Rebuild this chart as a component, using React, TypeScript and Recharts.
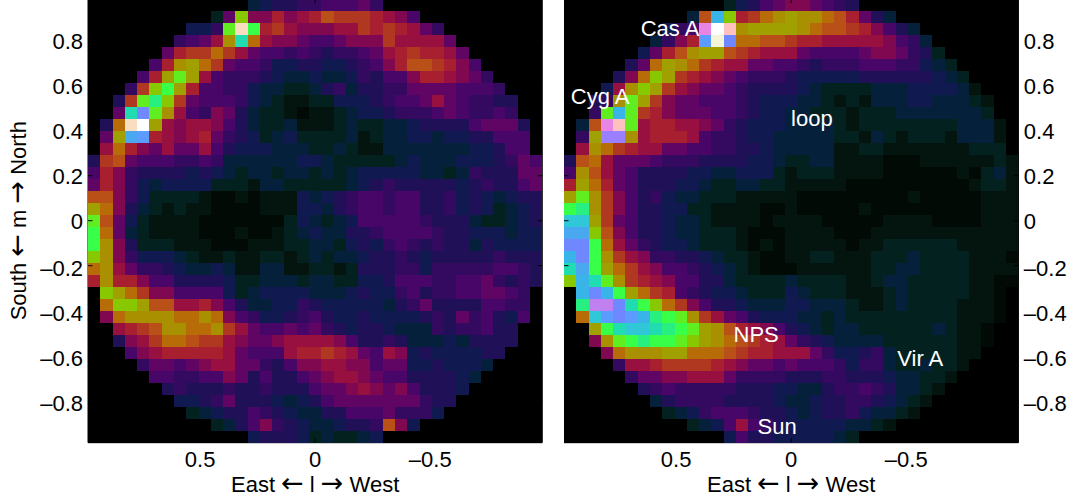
import { ScatterChart, Scatter, XAxis, YAxis, ReferenceDot, ReferenceLine } from "recharts"

// one character per sky cell, "." is outside the visible circle
const LEVEL_CODES = "0123456789abcdefghijklmnopqrstuvwx"
const LEVEL_COLORS = [
  "#010a04", "#03150e", "#03221f", "#04203a", "#101a50", "#201058", "#330a60", "#480668", "#600564",
  "#800850", "#981040", "#a82030", "#b03820", "#b85018", "#b86c08", "#a89000", "#a0a000", "#88c800",
  "#60ee20", "#38ff48", "#28f080", "#20dcb0", "#30c8d8", "#38b4e8", "#4aa8f0", "#5c9cff", "#7088ff",
  "#9a80ff", "#c080f0", "#e884e4", "#ffc0c0", "#fadcc0", "#f4f4d8", "#ffffff",
]
const OUTSIDE_COLOR = "#000000"

const LEFT_ROWS = [
  ".............34556677786.............",
  "..........28h99b9abdcccba97..........",
  "........446ivjbca999aacbcba86........",
  ".......678aflea998778999caaaa8.......",
  "......8bcceca87767656678abcbba8......",
  ".....7bfgec87764455445679bddcb97.....",
  "....7bgiga76665433433465779bba986....",
  "...6chjgb7766433223563556688887776...",
  "..5cikhc87776432112244456778a876655..",
  "..8lqifa769853221011234456667876676..",
  ".5evxga9aa97532231112322334555578885.",
  ".8gopba9ab86542342222312334434455777.",
  ".aeb98a88a75444333223211333333344577.",
  "5cd8777667633333344322222343334445687",
  "7b96555545432332332323444443323655588",
  "8b96434444222133222223456555554565578",
  "dd96422221001011143456776775564543455",
  "ge95321211000011144356776775564542345",
  "id84211110000000243234777776555322345",
  "je83211110001001234335567777655444344",
  "jf95222111000111223324546765655354444",
  "hf96444321121122123233455654555556555",
  "efa8665433431133112212555664666667765",
  "bfbb977555542233323322445777667786565",
  ".hgec9977774234444333454467566778876.",
  ".ehhgddaab97533446544444356855557766.",
  ".9effffeefe9764456754454444565867547.",
  "..abcdffeefca8778786545543336566755..",
  "..59aceedcca9889aaaa975565333435555..",
  "...79abbbbba8777abbcba87a945444455...",
  "....688789aa8865799aa997884454443....",
  ".....776677985755789aa9877555543.....",
  "......5655565565557889a98975554......",
  ".......44568555434578888888655.......",
  "........234557654335577786664........",
  "..........23579654334556d94..........",
  ".............45554232234.............",
]

const RIGHT_ROWS = [
  ".............24578998765.............",
  "..........3dnhbcefgffedb853..........",
  "........467txufggggfeddcb9753........",
  ".......369bpwqeeddcbbaaaaa9763.......",
  "......48bdfggdcbaaa877778998652......",
  ".....58egfecbaa88776566677766432.....",
  "....59ehgcba987666544444555555432....",
  "...4afhgca988765555432222333444431...",
  "..56figc988777654443321213334433321..",
  "..6inicb988877654433222122233333332..",
  ".3dtuiabbaa9865444333321222222223331.",
  ".6grrfabbba7665443333322132122213331.",
  ".afecbaa8877665543333311221111111222.",
  "5dea888766655554432233111100011111121",
  "7fda875555443344421222111100000010231",
  "bgeb875554432233221111100000000001221",
  "gifc975643322211111000000000100000111",
  "jkfc975544221111001000001000000000111",
  "mmgc875543321111011110000011110000111",
  "oohd975543322210001111000111111111111",
  "qqjea86544322210101111101122222211111",
  "nqjfca9665543221001122111222322221110",
  "lojgeca977654321000111111223322221111",
  "hnlifcba97755322223222211233222221100",
  ".nqnjgecb765443222432221112322222110.",
  ".kssqljhec97554333443332112322221110.",
  ".empqpnkjifca87544433232222222221110.",
  "..gjlmmlkjigfdba9754323322222232110..",
  "..9fijkjjihgfedcba86543333222222110..",
  "...9efffggeeedcbbaaa86445632222211...",
  "....6aabccccba9887877764663223221....",
  ".....68899aaa8666655566555433221.....",
  "......5676666655544335667653321......",
  ".......35666655554334556654321.......",
  "........234677765543455643321........",
  "..........2347a765444443321..........",
  ".............47554444432.............",
]

const GRID_SIZE = 37
const HALF_RANGE = 0.987
const X_TICKS = [0.5, 0, -0.5]
const Y_TICKS = [0.8, 0.6, 0.4, 0.2, 0, -0.2, -0.4, -0.6, -0.8]
const X_TITLE = ["East ", " l ", " West"]
const Y_TITLE = ["South ", " m ", " North"]

const RIGHT_NOTES = [
  { name: "Cas A", l: 0.526, m: 0.856 },
  { name: "Cyg A", l: 0.83, m: 0.554 },
  { name: "loop", l: -0.09, m: 0.456 },
  { name: "NPS", l: 0.152, m: -0.503 },
  { name: "Vir A", l: -0.561, m: -0.61 },
  { name: "Sun", l: 0.061, m: -0.912 },
]

const FONT = "'Liberation Sans', Arial, sans-serif"
const FONT_SIZE = 22
const PLOT_W = 454.3
const PLOT_H = 444
const PLOT_TOP = 0.7
const CHART_H = 502
const TICK_LEN = 4.5

function toCells(rows: string[]) {
  const step = (2 * HALF_RANGE) / GRID_SIZE
  const cells: { l: number; m: number; color: string }[] = []
  rows.forEach((row, r) => {
    row.split("").forEach((code, c) => {
      cells.push({
        l: HALF_RANGE - (c + 0.5) * step,
        m: HALF_RANGE - (r + 0.5) * step,
        color: code === "." ? OUTSIDE_COLOR : LEVEL_COLORS[LEVEL_CODES.indexOf(code)],
      })
    })
  })
  return cells
}

function fmt(v: number) {
  return v < 0 ? `\u2013${Math.abs(v)}` : String(v)
}

function SkyCell(props: any) {
  const { cx, cy, payload } = props
  const w = PLOT_W / GRID_SIZE
  const h = PLOT_H / GRID_SIZE
  return <rect x={cx - w / 2} y={cy - h / 2} width={w} height={h} fill={payload.color} shapeRendering="crispEdges" />
}

// the arrows come from DejaVu, the text font has very short ones
function AxisTitle({ parts, x, y, rotate }: { parts: string[]; x: number; y: number; rotate?: boolean }) {
  const arrow = (glyph: string) => (
    <tspan fontFamily="'DejaVu Sans'" fontSize={27}>
      {glyph}
    </tspan>
  )
  return (
    <text
      x={x}
      y={y}
      transform={rotate ? `rotate(-90 ${x} ${y})` : undefined}
      textAnchor="middle"
      fontFamily={FONT}
      fontSize={FONT_SIZE}
      fill="#000"
      xmlSpace="preserve"
    >
      {parts[0]}
      {arrow("\u2190")}
      {parts[1]}
      {arrow("\u2192")}
      {parts[2]}
    </text>
  )
}

function Panel({ rows, side, left, width, notes }: { rows: string[]; side: "left" | "right"; left: number; width: number; notes: typeof RIGHT_NOTES }) {
  const isLeft = side === "left"
  const plotLeft = isLeft ? 88 : 8
  const plotRight = plotLeft + PLOT_W
  const plotBottom = PLOT_TOP + PLOT_H
  const axisW = 60

  const XTick = ({ x, payload }: any) => (
    <g>
      <line x1={x} x2={x} y1={PLOT_TOP} y2={PLOT_TOP + TICK_LEN} stroke="#000" />
      <line x1={x} x2={x} y1={plotBottom} y2={plotBottom - TICK_LEN} stroke="#000" />
      <text x={x} y={plotBottom + 24} textAnchor="middle" fontFamily={FONT} fontSize={FONT_SIZE} fill="#000">
        {fmt(payload.value)}
      </text>
    </g>
  )

  const YTick = ({ y, payload }: any) => (
    <g>
      <line x1={plotLeft} x2={plotLeft + TICK_LEN} y1={y} y2={y} stroke="#000" />
      <line x1={plotRight} x2={plotRight - TICK_LEN} y1={y} y2={y} stroke="#000" />
      <text
        x={isLeft ? plotLeft - 5 : plotRight + 5.5}
        y={y + (payload.value < 0 ? 10 : 8)}
        textAnchor={isLeft ? "end" : "start"}
        fontFamily={FONT}
        fontSize={FONT_SIZE}
        fill="#000"
      >
        {fmt(payload.value)}
      </text>
    </g>
  )

  return (
    <div style={{ position: "absolute", left, top: -2, width, height: CHART_H }}>
      <ScatterChart
        width={width}
        height={CHART_H}
        margin={{
          top: PLOT_TOP,
          bottom: CHART_H - plotBottom - 50,
          left: isLeft ? plotLeft - axisW : plotLeft,
          right: isLeft ? width - plotRight : width - plotRight - axisW,
        }}
      >
        <Scatter data={toCells(rows)} dataKey="m" shape={SkyCell} isAnimationActive={false} />
        <XAxis
          type="number"
          dataKey="l"
          domain={[-HALF_RANGE, HALF_RANGE]}
          reversed
          ticks={X_TICKS}
          tick={XTick}
          tickLine={false}
          axisLine={{ stroke: "#000" }}
          height={50}
          interval={0}
          label={() => <AxisTitle parts={X_TITLE} x={plotLeft + PLOT_W / 2} y={plotBottom + 49} />}
        />
        <YAxis
          type="number"
          dataKey="m"
          domain={[-HALF_RANGE, HALF_RANGE]}
          orientation={side}
          ticks={Y_TICKS}
          tick={YTick}
          tickLine={false}
          axisLine={{ stroke: "#000" }}
          width={axisW}
          interval={0}
          label={isLeft ? () => <AxisTitle parts={Y_TITLE} x={26} y={PLOT_TOP + PLOT_H / 2} rotate /> : undefined}
        />
        <ReferenceLine y={HALF_RANGE} stroke="#000" />
        <ReferenceLine x={-HALF_RANGE} stroke="#000" />
        {notes.map((n) => (
          <ReferenceDot
            key={n.name}
            x={n.l}
            y={n.m}
            r={0}
            stroke="none"
            label={{ value: n.name, position: "center", fill: "#fff", fontFamily: FONT, fontSize: FONT_SIZE }}
          />
        ))}
      </ScatterChart>
    </div>
  )
}

export default function App() {
  return (
    <div>
      <Panel rows={LEFT_ROWS} side="left" left={0} width={556} notes={[]} />
      <Panel rows={RIGHT_ROWS} side="right" left={556} width={524} notes={RIGHT_NOTES} />
    </div>
  )
}
